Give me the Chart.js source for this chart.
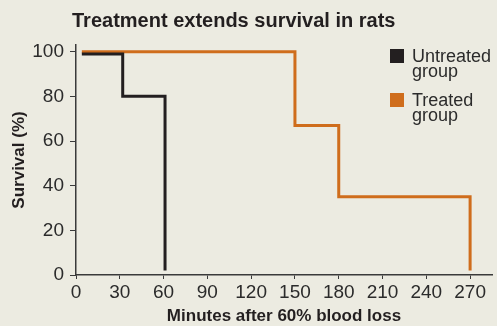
<!DOCTYPE html>
<html>
<head>
<meta charset="utf-8">
<script src="https://cdn.jsdelivr.net/npm/chart.js@4/dist/chart.umd.min.js"></script>
<style>
  html, body { margin: 0; padding: 0; background: #ecebe1; }
  #wrap { width: 497px; height: 326px; position: relative; }
</style>
</head>
<body>
<div id="wrap"><canvas id="c" width="497" height="326"></canvas></div>
<script>
// ---- Data ----
const chartTitle = 'Treatment extends survival in rats';
const xAxisTitle = 'Minutes after 60% blood loss';
const yAxisTitle = 'Survival (%)';
const seriesNames = ['Untreated group', 'Treated group'];
const legendLines = [['Untreated', 'group'], ['Treated', 'group']];
const seriesColors = ['#231f20', '#cf6d1c'];
// Kaplan–Meier style step data (minutes, % survival)
const untreatedMinutes = [4, 32, 61];
const untreatedSurvival = [99, 80, 2];
const treatedMinutes = [4, 150, 180, 270];
const treatedSurvival = [100, 67, 35, 2];
const xTicks = [0, 30, 60, 90, 120, 150, 180, 210, 240, 270];
const yTicks = [0, 20, 40, 60, 80, 100];

const toPoints = (xs, ys) => xs.map((x, i) => ({ x: x, y: ys[i] }));
const FONT = "'Liberation Sans', Arial, sans-serif";
const TEXT = '#2b2b2b';

const bgPlugin = {
  id: 'bg',
  beforeDraw(chart) {
    const ctx = chart.ctx;
    ctx.save();
    ctx.fillStyle = '#ecebe1';
    ctx.fillRect(0, 0, chart.width, chart.height);
    ctx.restore();
  }
};

const titleLegendPlugin = {
  id: 'titleLegend',
  afterDraw(chart) {
    const ctx = chart.ctx;
    ctx.save();
    // title
    ctx.fillStyle = '#231f20';
    ctx.font = 'bold 20px ' + FONT;
    ctx.textBaseline = 'alphabetic';
    ctx.textAlign = 'left';
    ctx.fillText(chartTitle, 72, 27);
    // legend
    const sq = 14;
    const x0 = 390;
    const tops = [49, 93];
    ctx.font = '18px ' + FONT;
    chart.data.datasets.forEach((ds, i) => {
      ctx.fillStyle = ds.borderColor;
      ctx.fillRect(x0, tops[i], sq, sq);
      ctx.fillStyle = TEXT;
      legendLines[i].forEach((line, j) => {
        ctx.fillText(line, x0 + 22, tops[i] + 13 + j * 15);
      });
    });
    ctx.restore();
  }
};

new Chart(document.getElementById('c'), {
  type: 'line',
  data: {
    datasets: [
      {
        label: seriesNames[0],
        data: toPoints(untreatedMinutes, untreatedSurvival),
        borderColor: seriesColors[0],
        backgroundColor: seriesColors[0],
        borderWidth: 3,
        stepped: 'before',
        pointRadius: 0,
        fill: false,
        borderCapStyle: 'butt',
        borderJoinStyle: 'miter'
      },
      {
        label: seriesNames[1],
        data: toPoints(treatedMinutes, treatedSurvival),
        borderColor: seriesColors[1],
        backgroundColor: seriesColors[1],
        borderWidth: 3,
        stepped: 'before',
        pointRadius: 0,
        fill: false,
        borderCapStyle: 'butt',
        borderJoinStyle: 'miter'
      }
    ]
  },
  options: {
    responsive: false,
    animation: false,
    devicePixelRatio: 1,
    layout: { padding: { top: 45, right: 5, bottom: 0, left: 0 } },
    plugins: {
      legend: { display: false },
      title: { display: false },
      tooltip: { enabled: false }
    },
    scales: {
      x: {
        type: 'linear',
        min: 0,
        max: 285,
        afterFit(scale) { scale.height = 51; },
        afterBuildTicks(scale) { scale.ticks = xTicks.map(v => ({ value: v })); },
        ticks: {
          includeBounds: false,
          autoSkip: false,
          maxRotation: 0,
          padding: 2,
          color: TEXT,
          font: { family: FONT, size: 19 }
        },
        grid: {
          display: true,
          drawOnChartArea: false,
          drawTicks: true,
          tickLength: 4,
          tickColor: '#3a3a3a',
          lineWidth: 1
        },
        border: { display: true, color: '#3a3a3a', width: 1.5 },
        title: {
          display: true,
          text: xAxisTitle,
          color: '#231f20',
          font: { family: FONT, size: 17, weight: 'bold', lineHeight: 1 },
          padding: { top: 0, bottom: 1 }
        }
      },
      y: {
        type: 'linear',
        min: 0,
        max: 103,
        afterFit(scale) { scale.width = 76; },
        afterBuildTicks(scale) { scale.ticks = yTicks.map(v => ({ value: v })); },
        ticks: {
          includeBounds: false,
          autoSkip: false,
          padding: 6,
          color: TEXT,
          font: { family: FONT, size: 19 }
        },
        grid: {
          display: true,
          drawOnChartArea: false,
          drawTicks: true,
          tickLength: 6,
          tickColor: '#3a3a3a',
          lineWidth: 1
        },
        border: { display: true, color: '#3a3a3a', width: 1.5 },
        title: {
          display: true,
          text: yAxisTitle,
          color: '#231f20',
          font: { family: FONT, size: 17, weight: 'bold', lineHeight: 1 },
          padding: { top: 11, bottom: 0 }
        }
      }
    }
  },
  plugins: [bgPlugin, titleLegendPlugin]
});
</script>
</body>
</html>
